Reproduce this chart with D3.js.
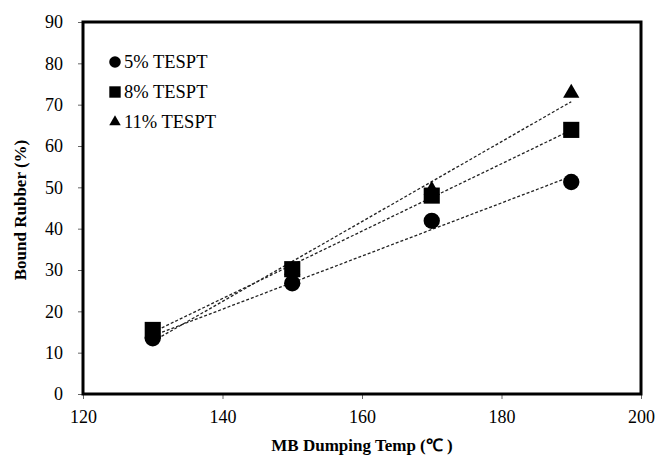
<!DOCTYPE html>
<html>
<head>
<meta charset="utf-8">
<script src="https://cdn.jsdelivr.net/npm/d3@7"></script>
<style>
  body { margin: 0; background: #fff; }
</style>
</head>
<body>
<div id="chart"></div>
<script>
var temps = [130, 150, 170, 190];
var tespt5 = [13.5, 26.8, 41.9, 51.3];
var tespt8 = [15.5, 30.2, 48.0, 63.9];
var tespt11 = [14.8, 30.0, 49.3, 72.8];
var seriesNames = ["5% TESPT", "8% TESPT", "11% TESPT"];
var xTicks = [120, 140, 160, 180, 200];
var yTicks = [0, 10, 20, 30, 40, 50, 60, 70, 80, 90];

var fontFam = "'Liberation Serif', 'Times New Roman', serif";

var margin = {top: 22, right: 17, bottom: 61, left: 83},
    width = 658 - margin.left - margin.right,
    height = 455 - margin.top - margin.bottom;

var svg = d3.select("#chart").append("svg")
    .attr("width", 658)
    .attr("height", 455)
    .append("g")
    .attr("transform", "translate(" + margin.left + "," + margin.top + ")");

var x = d3.scaleLinear().domain([120, 200]).range([0, width]);
var y = d3.scaleLinear().domain([0, 90]).range([height, 0]);

var xAxis = d3.axisBottom(x).tickValues(xTicks).tickSize(5).tickSizeOuter(0);
var yAxis = d3.axisLeft(y).tickValues(yTicks).tickSize(5).tickSizeOuter(0);

var gx = svg.append("g")
    .attr("transform", "translate(0," + height + ")")
    .call(xAxis);
var gy = svg.append("g").call(yAxis);

[gx, gy].forEach(function (g) {
    g.attr("font-family", null).attr("font-size", null);
    g.select(".domain").remove();
    g.selectAll(".tick line").attr("stroke", "#666");
    g.selectAll(".tick text")
        .attr("fill", "#000")
        .style("font-family", fontFam)
        .style("font-size", "18px");
});
gx.selectAll(".tick text").attr("y", 16);
gy.selectAll(".tick text").attr("x", -20);

// frame
svg.append("rect")
    .attr("x", 0).attr("y", 0)
    .attr("width", width).attr("height", height)
    .attr("fill", "none")
    .attr("stroke", "#000")
    .attr("stroke-width", 3);

var series = [
    {name: seriesNames[0], values: tespt5, symbol: d3.symbolCircle, size: 210},
    {name: seriesNames[1], values: tespt8, symbol: d3.symbolSquare, size: 260},
    {name: seriesNames[2], values: tespt11, symbol: d3.symbolTriangle, size: 115}
];

function fit(xs, ys) {
    var mx = d3.mean(xs), my = d3.mean(ys);
    var num = d3.sum(xs, function (v, i) { return (v - mx) * (ys[i] - my); });
    var den = d3.sum(xs, function (v) { return (v - mx) * (v - mx); });
    var b = num / den;
    return function (v) { return my + b * (v - mx); };
}

// trend lines
series.forEach(function (s) {
    var f = fit(temps, s.values);
    var ends = [d3.min(temps), d3.max(temps)];
    svg.append("line")
        .attr("x1", x(ends[0])).attr("y1", y(f(ends[0])))
        .attr("x2", x(ends[1])).attr("y2", y(f(ends[1])))
        .attr("stroke", "#222")
        .attr("stroke-width", 1.3)
        .attr("stroke-dasharray", "3,2");
});

// markers (triangles first so squares sit on top as in the picture)
[series[2], series[0], series[1]].forEach(function (s) {
    svg.selectAll(null)
        .data(s.values)
        .enter().append("path")
        .attr("d", d3.symbol().type(s.symbol).size(s.size))
        .attr("transform", function (d, i) {
            return "translate(" + x(temps[i]) + "," + y(d) + ")";
        })
        .attr("fill", "#000");
});

// legend
var legend = svg.append("g").attr("transform", "translate(32,40)");
series.forEach(function (s, i) {
    var row = legend.append("g").attr("transform", "translate(0," + (i * 30) + ")");
    row.append("path")
        .attr("d", d3.symbol().type(s.symbol).size(s.size * 0.5))
        .attr("fill", "#000");
    row.append("text")
        .attr("x", 9)
        .attr("dy", "0.35em")
        .style("font-family", fontFam)
        .style("font-size", "18.5px")
        .text(s.name);
});

// axis titles
svg.append("text")
    .attr("x", width / 2)
    .attr("y", height + 57)
    .attr("text-anchor", "middle")
    .style("font-family", fontFam)
    .style("font-size", "17px")
    .style("font-weight", "bold")
    .text("MB Dumping Temp (℃ )");

svg.append("text")
    .attr("transform", "rotate(-90)")
    .attr("x", -(210 - margin.top))
    .attr("y", -57)
    .attr("text-anchor", "middle")
    .style("font-family", fontFam)
    .style("font-size", "17px")
    .style("font-weight", "bold")
    .text("Bound Rubber (%)");
</script>
</body>
</html>
